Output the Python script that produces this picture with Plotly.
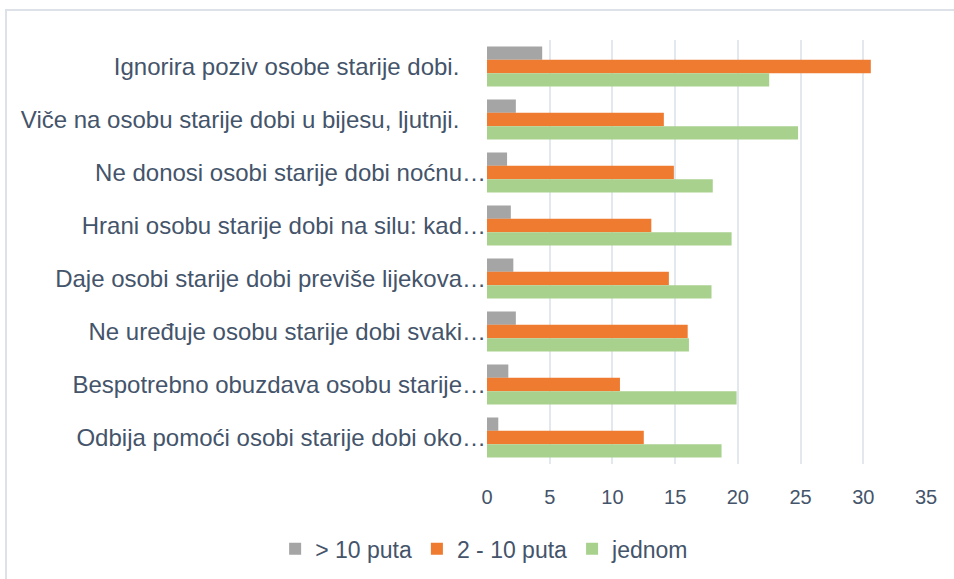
import plotly.graph_objects as go

categories = [
    "Ignorira poziv osobe starije dobi.\u00a0\u00a0\u00a0\u00a0",
    "Viče na osobu starije dobi u bijesu, ljutnji.\u00a0\u00a0\u00a0\u00a0",
    "Ne donosi osobi starije dobi noćnu…",
    "Hrani osobu starije dobi na silu: kad…",
    "Daje osobi starije dobi previše lijekova…",
    "Ne uređuje osobu starije dobi svaki…",
    "Bespotrebno obuzdava osobu starije…",
    "Odbija pomoći osobi starije dobi oko…",
]
series_names = ["> 10 puta", "2 - 10 puta", "jednom"]
more_than_10 = [4.4, 2.3, 1.6, 1.9, 2.1, 2.3, 1.7, 0.9]
two_to_10 = [30.6, 14.1, 14.9, 13.1, 14.5, 16.0, 10.6, 12.5]
once = [22.5, 24.8, 18.0, 19.5, 17.9, 16.1, 19.9, 18.7]
x_ticks = [0, 5, 10, 15, 20, 25, 30, 35]

colors = ["#a5a5a5", "#ee7b30", "#a9d18e"]
font_family = "Liberation Sans, Arial, sans-serif"
text_color = "#44546A"

fig = go.Figure()
for name, vals, col in zip(series_names, [more_than_10, two_to_10, once], colors):
    fig.add_trace(go.Bar(
        y=categories, x=vals, name=name, orientation="h",
        marker=dict(color=col, line=dict(width=0)),
    ))

fig.update_layout(
    width=954, height=579,
    margin=dict(l=487, r=28, t=40, b=115),
    barmode="group", bargap=0.245, bargroupgap=0,
    paper_bgcolor="white", plot_bgcolor="white",
    font=dict(family=font_family, color=text_color),
    showlegend=True,
    legend=dict(
        orientation="h", xref="container", yref="container",
        x=0.508, xanchor="center", y=0.052, yanchor="middle",
        font=dict(size=23, color=text_color), traceorder="normal",
        itemwidth=30,
    ),
    xaxis=dict(
        range=[0, 35], tickvals=x_ticks, showgrid=True,
        gridcolor="#e3e7ee", gridwidth=2, zeroline=False,
        showline=False, tickfont=dict(size=20, color=text_color),
        ticks="", ticklabelstandoff=19,
    ),
    yaxis=dict(
        autorange="reversed", showgrid=False, showline=False, ticks="",
        tickfont=dict(size=24, color=text_color), ticklabelstandoff=0,
    ),
    shapes=[dict(
        type="rect", xref="paper", yref="paper",
        x0=-1.0957, x1=1.08, y0=-0.3, y1=1.0708,
        line=dict(color="#dde1e8", width=2), layer="below",
    )],
)

fig.write_html(
    "out.html",
    config={"displayModeBar": False},
    post_script="document.body.style.margin='0';",
)
